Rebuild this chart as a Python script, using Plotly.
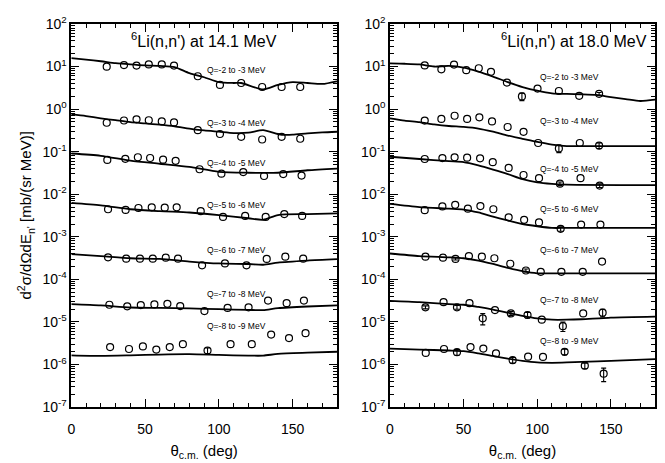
import numpy as np
import plotly.graph_objects as go

# ---------------- data: 6Li(n,n') at 14.1 MeV (left panel) ----------------
Q_LABELS = ["Q=-2 to -3 MeV", "Q=-3 to -4 MeV", "Q=-4 to -5 MeV", "Q=-5 to -6 MeV",
            "Q=-6 to -7 MeV", "Q=-7 to -8 MeV", "Q=-8 to -9 MeV"]

L1_ang = [24.0, 35.7, 44.2, 52.5, 61.3, 69.6, 85.7, 100.7, 115.1, 129.3, 142.5, 155.1]
L1_val = [9.9, 10.8, 10.5, 11.2, 11.2, 10.5, 5.9, 3.7, 4.1, 3.3, 3.3, 3.3]
L2_ang = [24.0, 35.7, 44.2, 52.5, 61.3, 69.6, 85.7, 100.7, 115.1, 129.3, 142.5, 155.1]
L2_val = [0.478, 0.539, 0.576, 0.547, 0.512, 0.486, 0.320, 0.260, 0.223, 0.193, 0.223, 0.201]
L3_ang = [24.4, 36.6, 45.1, 53.4, 62.2, 70.7, 86.9, 101.7, 116.5, 130.6, 143.6, 156.0]
L3_val = [0.064, 0.068, 0.074, 0.071, 0.065, 0.061, 0.0387, 0.0304, 0.0331, 0.0268, 0.0298, 0.0274]
L4_ang = [24.9, 36.8, 45.5, 54.5, 63.3, 71.4, 87.7, 102.8, 117.8, 131.7, 144.3, 156.4]
L4_val = [0.00444, 0.00429, 0.00476, 0.00493, 0.00483, 0.00493, 0.00401, 0.00293, 0.00309, 0.00293, 0.00343, 0.00309]
L5_ang = [24.9, 37.2, 46.5, 55.2, 64.0, 72.3, 88.6, 104.1, 118.7, 132.4, 145.0, 157.1]
L5_val = [3.30e-4, 3.07e-4, 3.07e-4, 3.07e-4, 3.24e-4, 3.07e-4, 2.14e-4, 2.37e-4, 2.14e-4, 3.03e-4, 3.41e-4, 3.07e-4]
L6_ang = [25.8, 37.9, 47.1, 56.3, 65.1, 73.8, 90.2, 105.9, 120.1, 133.3, 145.9, 157.6]
L6_val = [2.54e-5, 2.33e-5, 2.49e-5, 2.59e-5, 2.67e-5, 2.37e-5, 1.80e-5, 2.14e-5, 2.21e-5, 3.18e-5, 2.77e-5, 3.18e-5]
L7_ang = [26.3, 39.1, 48.5, 57.6, 66.7, 75.6, 92.3, 107.9, 122.3, 135.4, 147.5, 158.7]
L7_val = [2.58e-6, 2.32e-6, 2.67e-6, 2.25e-6, 2.58e-6, 3.01e-6, 2.14e-6, 3.01e-6, 3.01e-6, 5.06e-6, 4.20e-6, 5.45e-6]
# relative errors (only where a bar is visible)
L7_err = [0, 0, 0, 0, 0, 0, 0.15, 0, 0, 0, 0, 0]

# calculated curves, 14.1 MeV
LC1_ang = [0, 10, 20, 30, 40, 50, 60, 70, 80, 90, 100, 110, 115, 130, 140, 150, 160, 170, 180]
LC1_val = [15.8, 14.5, 13.3, 12.0, 11.2, 10.6, 10.3, 9.7, 7.0, 5.6, 4.3, 4.1, 4.1, 2.9, 3.7, 4.3, 4.1, 3.9, 4.5]
LC2_ang = [0, 10, 20, 30, 40, 50, 60, 70, 80, 90, 100, 110, 120, 130, 140, 145, 150, 160, 170, 180]
LC2_val = [0.762, 0.687, 0.608, 0.548, 0.494, 0.461, 0.430, 0.394, 0.349, 0.315, 0.294, 0.274, 0.279, 0.321,
           0.26, 0.247, 0.25, 0.269, 0.284, 0.294]
LC3_ang = [0, 20, 40, 60, 80, 100, 120, 140, 160, 180]
LC3_val = [0.0905, 0.080, 0.0617, 0.052, 0.0438, 0.0337, 0.0320, 0.0320, 0.0366, 0.0401]
LC4_ang = [0, 20, 40, 60, 80, 100, 120, 130, 140, 160, 180]
LC4_val = [0.00627, 0.00547, 0.00444, 0.00401, 0.00373, 0.00325, 0.00273, 0.00251, 0.00325, 0.00343, 0.00354]
LC5_ang = [0, 20, 40, 60, 80, 100, 120, 130, 140, 160, 180]
LC5_val = [3.93e-4, 3.54e-4, 3.14e-4, 3.03e-4, 2.63e-4, 2.37e-4, 2.30e-4, 2.21e-4, 2.49e-4, 2.77e-4, 2.98e-4]
LC6_ang = [0, 20, 40, 60, 80, 100, 120, 130, 140, 160, 180]
LC6_val = [2.63e-5, 2.46e-5, 2.19e-5, 2.14e-5, 2.08e-5, 2.0e-5, 1.92e-5, 1.90e-5, 2.11e-5, 2.31e-5, 2.45e-5]
LC7_ang = [0, 20, 40, 60, 80, 100, 120, 130, 140, 160, 180]
LC7_val = [1.65e-6, 1.6e-6, 1.65e-6, 1.72e-6, 1.75e-6, 1.68e-6, 1.62e-6, 1.62e-6, 1.78e-6, 1.9e-6, 2.0e-6]

# ---------------- data: 6Li(n,n') at 18.0 MeV (right panel) ----------------
R1_ang = [23.6, 34.9, 43.5, 51.8, 60.3, 68.6, 79.4, 89.6, 100.2, 114.7, 128.5, 142.0]
R1_val = [10.6, 8.6, 11.1, 8.2, 9.1, 7.5, 4.2, 1.98, 3.04, 2.66, 2.05, 2.28]
R1_err = [0, 0, 0, 0, 0, 0, 0, 0.2, 0, 0, 0, 0.08]
R2_ang = [23.6, 34.9, 43.9, 52.4, 60.7, 69.3, 79.9, 90.7, 100.6, 114.7, 128.9, 142.0]
R2_val = [0.538, 0.589, 0.698, 0.589, 0.640, 0.512, 0.380, 0.293, 0.160, 0.119, 0.160, 0.139]
R2_err = [0, 0, 0, 0, 0, 0, 0, 0, 0, 0.2, 0, 0.15]
R3_ang = [23.6, 35.6, 43.9, 52.4, 61.2, 69.8, 80.6, 90.7, 101.2, 115.4, 129.4, 142.4]
R3_val = [0.0673, 0.0709, 0.0736, 0.0721, 0.0698, 0.0567, 0.0416, 0.0283, 0.0238, 0.0177, 0.0238, 0.0160]
R3_err = [0, 0, 0, 0, 0, 0, 0, 0, 0, 0.1, 0, 0.1]
R4_ang = [23.6, 35.6, 44.3, 52.9, 61.4, 70.2, 80.6, 91.1, 101.2, 115.9, 129.8, 142.9]
R4_val = [0.00422, 0.00519, 0.00565, 0.00458, 0.00527, 0.00444, 0.00287, 0.00251, 0.00218, 0.00154, 0.00194, 0.00194]
R4_err = [0, 0, 0, 0, 0, 0, 0, 0, 0, 0.12, 0, 0]
R5_ang = [24.1, 36.0, 44.5, 53.6, 62.4, 70.9, 81.7, 92.3, 102.4, 116.4, 130.9, 144.0]
R5_val = [3.41e-4, 3.24e-4, 3.03e-4, 3.54e-4, 3.41e-4, 3.14e-4, 2.33e-4, 1.62e-4, 1.51e-4, 1.51e-4, 1.51e-4, 2.63e-4]
R5_err = [0, 0, 0.06, 0, 0, 0, 0, 0.08, 0, 0, 0, 0]
R6_ang = [24.1, 36.4, 45.5, 54.0, 63.0, 71.3, 82.1, 93.4, 103.1, 117.4, 131.2, 144.4]
R6_val = [2.21e-5, 2.92e-5, 2.21e-5, 2.77e-5, 1.22e-5, 1.90e-5, 1.59e-5, 1.46e-5, 1.13e-5, 7.96e-6, 1.59e-5, 1.65e-5]
R6_err = [0.08, 0, 0.1, 0, 0.3, 0, 0.1, 0.15, 0, 0.25, 0, 0.2]
R7_ang = [24.3, 36.7, 45.5, 54.7, 63.4, 72.0, 83.3, 93.8, 103.9, 118.6, 132.3, 145.1]
R7_val = [1.88e-6, 2.32e-6, 1.95e-6, 2.58e-6, 2.37e-6, 1.83e-6, 1.27e-6, 1.53e-6, 1.51e-6, 1.99e-6, 9.4e-7, 6.1e-7]
R7_err = [0, 0, 0.15, 0, 0, 0, 0.15, 0, 0, 0.15, 0.15, 0.35]

RC1_ang = [0, 10, 20, 30, 40, 50, 60, 70, 80, 90, 100, 110, 120, 130, 140, 150, 160, 170, 180]
RC1_val = [11.8, 11.6, 11.2, 10.0, 10.3, 9.4, 7.6, 5.8, 4.3, 3.3, 2.7, 2.35, 2.27, 2.23, 2.15, 1.91, 1.72, 1.55, 1.66]
RC2_ang = [0, 10, 20, 30, 40, 50, 60, 70, 80, 90, 100, 110, 120, 130, 180]
RC2_val = [0.608, 0.538, 0.494, 0.438, 0.401, 0.381, 0.349, 0.294, 0.239, 0.201, 0.169, 0.147, 0.135, 0.135, 0.135]
RC3_ang = [0, 20, 40, 50, 60, 70, 80, 90, 100, 110, 120, 180]
RC3_val = [0.0759, 0.0673, 0.0597, 0.0567, 0.0475, 0.0380, 0.0298, 0.0226, 0.0190, 0.0175, 0.0168, 0.0164]
RC4_ang = [0, 20, 40, 50, 60, 70, 80, 90, 100, 110, 120, 180]
RC4_val = [0.00594, 0.00501, 0.00458, 0.00436, 0.00373, 0.00298, 0.00242, 0.00200, 0.00177, 0.00162, 0.00162, 0.00162]
RC5_ang = [0, 20, 40, 50, 60, 70, 80, 90, 100, 110, 180]
RC5_val = [4.06e-4, 3.54e-4, 3.30e-4, 3.14e-4, 2.77e-4, 2.30e-4, 1.87e-4, 1.56e-4, 1.39e-4, 1.38e-4, 1.39e-4]
RC6_ang = [0, 20, 40, 50, 60, 70, 80, 90, 100, 110, 120, 130, 150, 180]
RC6_val = [3.12e-5, 2.92e-5, 2.63e-5, 2.54e-5, 2.25e-5, 1.95e-5, 1.65e-5, 1.39e-5, 1.21e-5, 1.13e-5, 1.13e-5,
           1.16e-5, 1.27e-5, 1.34e-5]
RC7_ang = [0, 20, 40, 50, 60, 70, 80, 90, 100, 110, 120, 130, 150, 180]
RC7_val = [2.37e-6, 2.25e-6, 2.14e-6, 2.06e-6, 1.83e-6, 1.59e-6, 1.38e-6, 1.22e-6, 1.12e-6, 1.10e-6, 1.12e-6,
           1.16e-6, 1.22e-6, 1.34e-6]

# label anchor values (where each Q label sits)
L_LABEL_Y = [8.5, 0.46, 0.0547, 0.00556, 4.83e-4, 4.43e-5, 7.96e-6]
R_LABEL_Y = [5.58, 0.538, 0.0401, 0.00445, 4.83e-4, 3.29e-5, 3.59e-6]
Y_TICKS = [1e-7, 1e-6, 1e-5, 1e-4, 1e-3, 1e-2, 1e-1, 1e0, 1e1, 1e2]
Y_TICKTEXT = ["10<sup>-7</sup>", "10<sup>-6</sup>", "10<sup>-5</sup>", "10<sup>-4</sup>", "10<sup>-3</sup>",
              "10<sup>-2</sup>", "10<sup>-1</sup>", "10<sup>0</sup>", "10<sup>1</sup>", "10<sup>2</sup>"]

FONT = "Liberation Sans, Arial, Helvetica, sans-serif"

left_pts = [(L1_ang, L1_val, None), (L2_ang, L2_val, None), (L3_ang, L3_val, None), (L4_ang, L4_val, None),
            (L5_ang, L5_val, None), (L6_ang, L6_val, None), (L7_ang, L7_val, L7_err)]
left_lines = [(LC1_ang, LC1_val), (LC2_ang, LC2_val), (LC3_ang, LC3_val), (LC4_ang, LC4_val),
              (LC5_ang, LC5_val), (LC6_ang, LC6_val), (LC7_ang, LC7_val)]
right_pts = [(R1_ang, R1_val, R1_err), (R2_ang, R2_val, R2_err), (R3_ang, R3_val, R3_err), (R4_ang, R4_val, R4_err),
             (R5_ang, R5_val, R5_err), (R6_ang, R6_val, R6_err), (R7_ang, R7_val, R7_err)]
right_lines = [(RC1_ang, RC1_val), (RC2_ang, RC2_val), (RC3_ang, RC3_val), (RC4_ang, RC4_val),
               (RC5_ang, RC5_val), (RC6_ang, RC6_val), (RC7_ang, RC7_val)]

fig = go.Figure()


def add_panel(points, lines, xa, ya):
    for ang, val in lines:
        fig.add_trace(go.Scatter(x=ang, y=val, mode="lines", xaxis=xa, yaxis=ya, showlegend=False,
                                 line=dict(color="black", width=1.8, shape="spline", smoothing=0.7),
                                 hoverinfo="skip"))
    for ang, val, err in points:
        if err is not None:
            ex = [a for a, e in zip(ang, err) if e > 0]
            ey = [v for v, e in zip(val, err) if e > 0]
            ee = [v * e for v, e in zip(val, err) if e > 0]
            fig.add_trace(go.Scatter(x=ex, y=ey, mode="markers", xaxis=xa, yaxis=ya, showlegend=False,
                                     marker=dict(size=1, color="rgba(0,0,0,0)"),
                                     error_y=dict(type="data", array=ee, visible=True, color="black",
                                                  thickness=1.1, width=2.5)))
        fig.add_trace(go.Scatter(x=ang, y=val, mode="markers", xaxis=xa, yaxis=ya, showlegend=False,
                                 marker=dict(symbol="circle-open", size=7, color="black",
                                             line=dict(width=1.2, color="black"))))


add_panel(left_pts, left_lines, "x", "y")
add_panel(right_pts, right_lines, "x2", "y2")

ann = []
for lab, yv in zip(Q_LABELS, L_LABEL_Y):
    ann.append(dict(x=90.6, y=np.log10(yv), xref="x", yref="y", text=lab, showarrow=False,
                    xanchor="left", yanchor="middle", font=dict(size=8.5, color="black", family=FONT)))
for lab, yv in zip(Q_LABELS, R_LABEL_Y):
    ann.append(dict(x=100.2, y=np.log10(yv), xref="x2", yref="y2", text=lab, showarrow=False,
                    xanchor="left", yanchor="middle", font=dict(size=8.5, color="black", family=FONT)))
ann.append(dict(x=90, y=1.612, xref="x", yref="y", text="<sup>6</sup>Li(n,n') at 14.1 MeV", showarrow=False,
                xanchor="center", yanchor="middle", font=dict(size=16, color="black", family=FONT)))
ann.append(dict(x=125, y=1.612, xref="x2", yref="y2", text="<sup>6</sup>Li(n,n') at 18.0 MeV", showarrow=False,
                xanchor="center", yanchor="middle", font=dict(size=16, color="black", family=FONT)))
ann.append(dict(x=22 / 665, y=1 - 214 / 463, xref="paper", yref="paper",
                text="d<sup>2</sup>σ/dΩdE<sub>n'</sub> [mb/(sr MeV)]", showarrow=False, textangle=-90,
                xanchor="center", yanchor="middle", font=dict(size=15, color="black", family=FONT)))

xcommon = dict(range=[0, 180], dtick=50, tick0=0, ticks="inside", ticklen=8, tickwidth=1, tickcolor="black",
               minor=dict(dtick=10, tick0=0, ticks="inside", ticklen=4, tickcolor="black", showgrid=False),
               showline=True, linecolor="black", linewidth=1.5, mirror="ticks", showgrid=False, zeroline=False,
               tickfont=dict(size=14, color="black", family=FONT), ticklabelstandoff=8,
               title=dict(text="θ<sub>c.m.</sub> (deg)", font=dict(size=15, color="black", family=FONT),
                          standoff=10))
ycommon = dict(type="log", range=[-7, 2], tickvals=Y_TICKS, ticktext=Y_TICKTEXT, ticks="inside", ticklen=8,
               tickwidth=1, tickcolor="black",
               minor=dict(dtick="D1", ticks="inside", ticklen=4, tickcolor="black", showgrid=False),
               showline=True, linecolor="black", linewidth=1.5, mirror="ticks", showgrid=False, zeroline=False,
               tickfont=dict(size=14, color="black", family=FONT),
               domain=[1 - 413.2 / 463, 1 - 14.5 / 463])

fig.update_layout(
    width=665, height=463, margin=dict(l=0, r=0, t=0, b=0),
    paper_bgcolor="white", plot_bgcolor="white",
    font=dict(family=FONT, color="black"),
    xaxis=dict(domain=[67.7 / 665, 335 / 665], anchor="y", **xcommon),
    xaxis2=dict(domain=[388.3 / 665, 655 / 665], anchor="y2", **xcommon),
    yaxis=dict(anchor="x", **ycommon),
    yaxis2=dict(anchor="x2", **ycommon),
    annotations=ann,
    showlegend=False,
)

fig.write_html("out.html")
